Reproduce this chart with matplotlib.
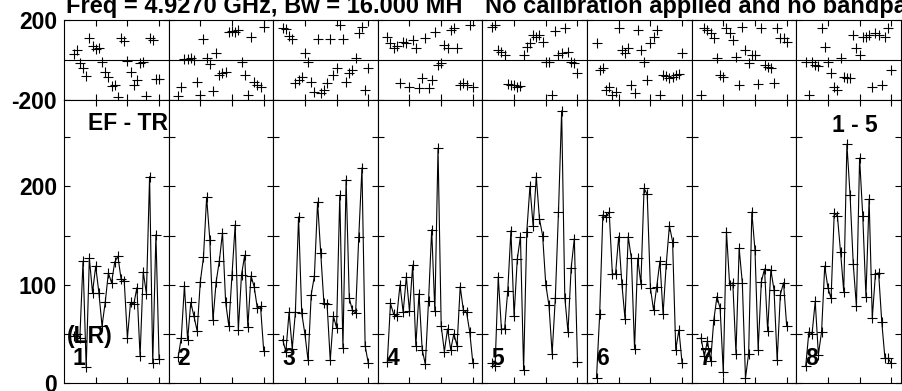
import matplotlib
matplotlib.use('Agg')
import matplotlib.pyplot as plt

plt.rcParams['font.family'] = ['Liberation Sans', 'DejaVu Sans']
plt.rcParams['font.weight'] = 'bold'
plt.rcParams['axes.unicode_minus'] = False

# channels plotted in each IF panel
channels = list(range(3, 31))
if_labels = ['1', '2', '3', '4', '5', '6', '7', '8']

# amplitude per IF (ch 3..30)
amp_if1 = [48, 50, 46, 124, 16, 127, 92, 119, 92, 58, 82, 112, 102, 123,
           129, 106, 104, 46, 82, 80, 97, 27, 113, 91, 210, 20, 151, 24]
amp_if2 = [26, 46, 99, 44, 82, 68, 53, 103, 128, 189, 146, 64, 103, 124,
           153, 82, 58, 110, 161, 54, 110, 130, 57, 109, 98, 76, 78, 33]
amp_if3 = [44, 32, 72, 35, 72, 169, 71, 50, 23, 90, 109, 184, 132, 81,
           80, 23, 68, 56, 191, 36, 207, 86, 74, 71, 149, 219, 38, 20]
amp_if4 = [21, 81, 70, 68, 100, 72, 108, 73, 120, 38, 91, 34, 19, 83,
           156, 73, 239, 58, 32, 55, 34, 50, 38, 98, 74, 72, 52, 20]
amp_if5 = [20, 17, 108, 55, 55, 94, 155, 68, 126, 149, 13, 154, 200, 160,
           210, 167, 150, 100, 79, 30, 86, 174, 277, 87, 52, 117, 147, 21]
amp_if6 = [5, 70, 171, 169, 174, 111, 111, 149, 101, 65, 149, 127, 35, 127,
           101, 198, 192, 97, 74, 98, 124, 70, 121, 160, 144, 34, 54, 20]
amp_if7 = [46, 27, 43, 22, 64, 88, 76, 11, 154, 100, 102, 30, 137, 102,
           5, 30, 174, 135, 34, 103, 116, 53, 115, 95, 23, 90, 102, 58]
amp_if8 = [17, 52, 50, 83, 29, 52, 119, 97, 86, 173, 170, 133, 93, 243,
           191, 121, 78, 229, 170, 88, 187, 66, 111, 112, 62, 25, 25, 20]

# phase per IF (degrees, ch 3..30)
ph_if1 = [30, 50, -17, -42, -80, 108, 70, 53, 60, -8, -60, -87, -130, -125,
          -183, 112, 95, -5, -58, -125, -100, -17, -8, -180, 112, 100, -97, -97]
ph_if2 = [-178, -133, 5, 5, 8, 0, -108, -175, 105, 8, -22, -155, 33, -75,
          -67, -58, 140, 145, 140, 150, -8, -75, -175, 117, -108, -125, -133, 167]
ph_if3 = [158, 155, 120, 105, -117, -100, -83, 33, -8, -108, -162, 105, -167, -150,
          -117, 105, -75, -42, 175, 105, -108, -67, -50, 12, 133, 167, -150, -42]
ph_if4 = [117, 83, 58, 70, -117, 92, 83, -133, 100, 58, -142, -92, 108, -142,
          -100, 142, -25, -17, 75, 58, 150, 158, 58, -125, -117, -125, 175, -133]
ph_if5 = [167, 175, 50, 42, 25, -120, -125, -125, -133, -130, 25, 67, 83, 125,
          117, 125, 92, -8, -8, -175, 145, 25, 33, 158, 42, -8, -17, -67]
ph_if6 = [83, -50, -42, -150, -133, -175, -160, 158, 50, 33, 58, -125, -167, 150,
          50, -8, -100, 83, 117, 150, -175, -75, -80, -92, -83, -75, -72, 33]
ph_if7 = [-175, 158, 150, 133, 108, 8, -75, -83, 158, 133, 100, 17, -125, 167,
          50, -17, 25, 25, -120, 158, -25, -33, -42, -117, 158, 108, 112, 90]
ph_if8 = [-8, -175, -8, -25, -30, 158, 67, -8, -67, -133, -150, 8, -83, -92,
          -90, 125, 58, 25, 117, 117, 125, -133, 133, 125, -125, 117, 158, -50]

amps = [amp_if1, amp_if2, amp_if3, amp_if4, amp_if5, amp_if6, amp_if7, amp_if8]
phases = [ph_if1, ph_if2, ph_if3, ph_if4, ph_if5, ph_if6, ph_if7, ph_if8]

W, H = 903, 391
fig = plt.figure(figsize=(W / 100, H / 100), dpi=100)


def px_box(x, y_top, w, h):
    return [x / W, 1 - (y_top + h) / H, w / W, h / H]


left, panel_w = 64, 104.6
tick_len = 4.3
for i in range(8):
    x0 = left + i * panel_w

    # phase panel
    axp = fig.add_axes(px_box(x0, 20, panel_w, 80))
    axp.plot(channels, phases[i], ls='none', marker='+', ms=7, mew=0.8, color='black')
    axp.axhline(0, color='black', lw=0.8)
    axp.set_xlim(0, 33)
    axp.set_ylim(-200, 200)
    axp.set_xticks([10, 20, 30])
    axp.set_yticks([-200, 200])
    axp.set_xticklabels([])
    axp.tick_params(direction='in', top=True, right=True, length=tick_len,
                    width=0.8, labelsize=16.5, pad=5)
    if i > 0:
        axp.set_yticklabels([])

    # amplitude panel
    axa = fig.add_axes(px_box(x0, 100, panel_w, 283))
    axa.plot(channels, amps[i], color='black', lw=0.8, marker='+', ms=7, mew=0.8)
    axa.set_xlim(0, 33)
    axa.set_ylim(0, 288)
    axa.set_xticks([10, 20, 30])
    axa.set_xticklabels([])
    axa.set_yticks([0, 50, 100, 150, 200, 250])
    axa.set_yticklabels(['0', '', '100', '', '200', ''])
    axa.tick_params(direction='in', top=True, right=True, length=tick_len,
                    width=0.8, labelsize=16.5, pad=5)
    if i > 0:
        axa.set_yticklabels([])
    axa.text(0.085, 0.088, if_labels[i], transform=axa.transAxes,
             fontsize=16.5, va='center', ha='left')

    for ax in (axp, axa):
        for s in ax.spines.values():
            s.set_linewidth(0.8)

# labels on the plot
fig.text(66 / W, 1 - 13.5 / H, 'Freq = 4.9270 GHz, Bw = 16.000 MH',
         fontsize=17, va='baseline', ha='left')
fig.text(485 / W, 1 - 13.5 / H, 'No calibration applied and no bandpass',
         fontsize=17, va='baseline', ha='left')
fig.text(128 / W, 1 - 124 / H, 'EF - TR', fontsize=16.5, va='center', ha='center')
fig.text(855 / W, 1 - 125 / H, '1 - 5', fontsize=16.5, va='center', ha='center')
fig.text(67 / W, 1 - 337 / H, '(LR)', fontsize=16.5, va='center', ha='left')

fig.savefig('out.png', dpi=100)
